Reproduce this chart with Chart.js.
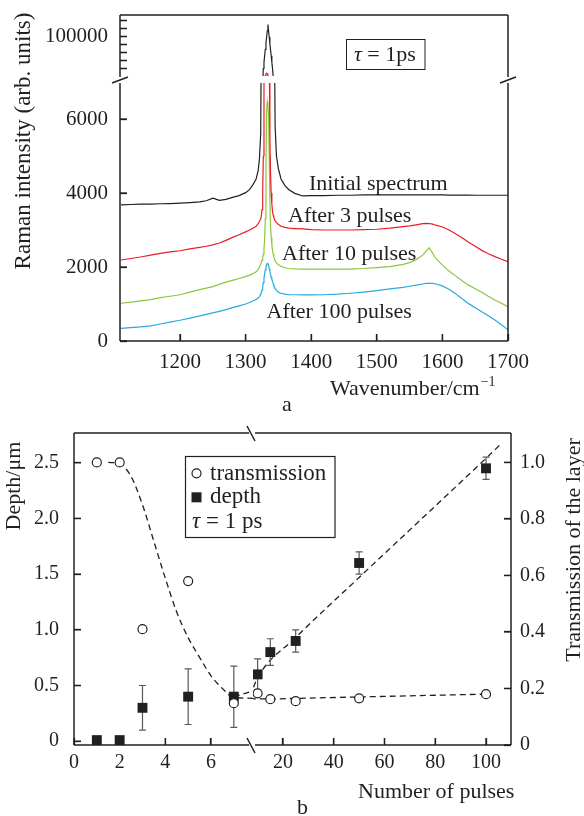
<!DOCTYPE html>
<html>
<head>
<meta charset="utf-8">
<script src="https://cdn.jsdelivr.net/npm/chart.js@4.4.1/dist/chart.umd.min.js"></script>
<style>
html,body{margin:0;padding:0;background:#fff;}
#wrap{position:relative;width:584px;height:816px;overflow:hidden;background:#fff;}
canvas{position:absolute;left:0;}
#ca{top:0;width:584px;height:420px;}
#cb{top:420px;width:584px;height:396px;}
</style>
</head>
<body>
<div id="wrap">
<canvas id="ca" width="584" height="420"></canvas>
<canvas id="cb" width="584" height="396"></canvas>
</div>
<script>
// ---------------- Panel a: Raman spectra ----------------
const wavenumbers = [
  1110,1125,1140,1155,1170,1185,1200,1215,1230,1240,
  1250,1260,1270,1280,1290,1300,1306,1311,1316,1319,
  1321,1323,1324,1325,1326,1327,1328,1329,1330,1331,
  1332,1333,1334,1335,1336,1337,1338,1339,1340,1341,
  1342,1343,1344,1345,1347,1350,1354,1360,1366,1375,
  1387,1400,1420,1440,1460,1480,1500,1520,1540,1550,
  1560,1570,1575,1580,1585,1590,1600,1610,1620,1630,
  1640,1650,1660,1670,1680,1690,1700
];
const initialSpectrum = [
  3680,3690,3700,3700,3710,3715,3725,3740,3760,3790,
  3860,3800,3830,3880,3930,4010,4090,4220,4380,4600,
  4900,5600,8500,20000,40000,60000,68000,76000,84000,92000,
  99000,107000,115000,107000,99000,91000,83000,76000,68000,60000,
  50000,20000,8000,5800,5000,4650,4380,4200,4090,3990,
  3920,3930,3930,3940,3940,3950,3950,3950,3950,3950,
  3950,3950,3950,3950,3950,3950,3950,3945,3945,3945,
  3945,3940,3940,3940,3940,3940,3940
];
const after3Pulses = [
  2190,2230,2270,2320,2370,2410,2440,2490,2530,2560,
  2600,2650,2720,2800,2870,2950,3000,3050,3100,3170,
  3230,3300,3380,3550,4000,5000,6500,30000,51000,53500,
  54000,53500,51000,30000,8000,5500,4500,4000,3700,3500,
  3400,3340,3290,3250,3200,3150,3100,3070,3050,3040,
  3030,3010,3000,3000,3000,3010,3020,3050,3090,3110,
  3140,3170,3180,3175,3160,3130,3080,3000,2900,2790,
  2670,2560,2450,2360,2280,2210,2145
];
const after10Pulses = [
  1020,1050,1085,1120,1170,1210,1250,1320,1390,1430,
  1470,1530,1590,1640,1690,1740,1780,1820,1870,1930,
  2000,2080,2130,2180,2250,2350,2500,2750,3300,4800,
  6200,6470,6350,6100,5000,3800,3100,2800,2600,2450,
  2350,2280,2220,2170,2110,2060,2020,1980,1960,1950,
  1945,1940,1940,1940,1945,1960,1985,2010,2070,2120,
  2200,2320,2420,2520,2380,2230,2050,1890,1760,1630,
  1510,1410,1320,1210,1110,1020,930
];
const after100Pulses = [
  340,360,380,410,460,510,560,620,680,720,
  760,800,850,900,950,1000,1040,1080,1120,1160,
  1200,1260,1310,1380,1470,1580,1700,1820,1920,2000,
  2060,2100,2090,2040,1960,1880,1800,1730,1670,1610,
  1550,1500,1460,1420,1370,1320,1290,1265,1255,1250,
  1245,1245,1250,1265,1290,1320,1360,1410,1450,1480,
  1510,1540,1555,1560,1555,1540,1490,1400,1280,1140,
  1010,900,790,680,570,440,300
];
const spectrumLabels = ['Initial spectrum', 'After 3 pulses', 'After 10 pulses', 'After 100 pulses'];
const xTicksA = [1200, 1300, 1400, 1500, 1600, 1700];
const yTicksLow = [0, 2000, 4000, 6000];
const yTicksHigh = [60000, 70000, 80000, 90000, 100000, 110000, 120000];
const yHighLabelled = [100000];

// ---------------- Panel b: depth & transmission ----------------
const pulses = [1, 2, 3, 5, 7, 10, 15, 25, 50, 100];
const transmission = [1.0, 1.0, 0.41, 0.58, 0.148, 0.183, 0.162, 0.155, 0.165, 0.18];
const depth = [0.01, 0.01, 0.3, 0.4, 0.4, 0.6, 0.8, 0.9, 1.6, 2.45];
const depthError = [0, 0, 0.2, 0.25, 0.275, 0.14, 0.12, 0.1, 0.1, 0.1];
const transFitPulses = [1.5, 2, 2.5, 3, 3.5, 4, 4.5, 5, 5.5, 6, 6.5, 7, 10, 15, 25, 50, 100];
const transFit = [1.0, 0.995, 0.95, 0.85, 0.72, 0.59, 0.47, 0.38, 0.31, 0.245, 0.2, 0.168, 0.163, 0.163, 0.165, 0.17, 0.18];
const depthFitPulses = [7, 10, 25, 50, 100, 105.5];
const depthFit = [0.4, 0.57, 0.93, 1.47, 2.54, 2.66];
const legendLabels = ['transmission', 'depth'];
const xTicksLeft = [0, 2, 4, 6];
const xTicksRight = [20, 40, 60, 80, 100];
const yTicksDepth = [0, 0.5, 1.0, 1.5, 2.0, 2.5];
const yTicksTrans = [0, 0.2, 0.4, 0.6, 0.8, 1.0];

// ---------------- styling ----------------
const INK = '#231f20';
const SERIF = "'Liberation Serif', 'Times New Roman', serif";
const SPECTRUM_COLORS = ['#231f20', '#ed1c24', '#8cc63f', '#27aae1'];
const UPPER_SEGMENT_PX = 64.5;   // height of the upper (broken) y segment in panel a
const TICK_LEN = 7;
Chart.defaults.font.family = SERIF;
Chart.defaults.color = INK;

const toXY = (xs, ys) => xs.map((x, i) => ({x: x, y: ys[i]}));
const setTicks = arr => (s => { s.ticks = arr.map(v => ({value: v})); });
// fix the axis box size and drop the automatic label overhang padding
const fixWidth = w => (s => { s.width = w; s.paddingTop = 0; s.paddingBottom = 0; s.paddingLeft = 0; s.paddingRight = 0; });
const fixHeight = h => (s => { s.height = h; s.paddingTop = 0; s.paddingBottom = 0; s.paddingLeft = 0; s.paddingRight = 0; });

function axis(extra, fontSize, pad) {
  const base = {
    type: 'linear',
    border: {display: false},
    grid: {display: true, drawOnChartArea: false, drawTicks: true, tickLength: -TICK_LEN, tickWidth: 1.3, tickColor: INK, color: INK},
    ticks: {color: INK, autoSkip: false, maxRotation: 0, minRotation: 0, padding: pad, font: {family: SERIF, size: fontSize}}
  };
  const o = Object.assign(base, extra);
  if (extra.tickCallback) { o.ticks.callback = extra.tickCallback; delete o.tickCallback; }
  return o;
}

// clip each dataset to its own segment of a broken axis
function segRect(chart, seg) {
  const a = chart.chartArea, s = chart.scales;
  if (seg === 'low') return {l: a.left, r: a.right, t: s.yLow.top + 3.5, b: a.bottom};
  if (seg === 'high') return {l: a.left, r: a.right, t: a.top, b: s.yHigh.bottom - 3.5};
  if (seg === 'L') return {l: a.left - 12, r: s.xL.right, t: a.top - 12, b: a.bottom + 12};
  if (seg === 'R') return {l: s.xR.left, r: a.right + 12, t: a.top - 12, b: a.bottom + 12};
  return {l: a.left, r: a.right, t: a.top, b: a.bottom};
}
const segClip = {
  id: 'segClip',
  beforeDatasetDraw(chart, args) {
    const ds = chart.data.datasets[args.index];
    const r = segRect(chart, ds.seg);
    const ctx = chart.ctx;
    ctx.save();
    ctx.beginPath();
    ctx.rect(r.l, r.t, r.r - r.l, r.b - r.t);
    ctx.clip();
    if (ds.withErrors) {
      const xs = chart.scales[ds.xAxisID], ys = chart.scales[ds.yAxisID];
      ctx.save();
      ctx.strokeStyle = '#58595b';
      ctx.lineWidth = 1.2;
      ds.data.forEach(p => {
        if (!p.err) return;
        const x = xs.getPixelForValue(p.x);
        const y1 = ys.getPixelForValue(p.y + p.err);
        const y2 = ys.getPixelForValue(p.y - p.err);
        ctx.beginPath();
        ctx.moveTo(x, y1); ctx.lineTo(x, y2);
        ctx.moveTo(x - 3.5, y1); ctx.lineTo(x + 3.5, y1);
        ctx.moveTo(x - 3.5, y2); ctx.lineTo(x + 3.5, y2);
        ctx.stroke();
      });
      ctx.restore();
    }
  },
  afterDatasetDraw(chart) { chart.ctx.restore(); }
};

function line(ctx, x1, y1, x2, y2) { ctx.beginPath(); ctx.moveTo(x1, y1); ctx.lineTo(x2, y2); ctx.stroke(); }
// inward tick marks at each scale's own tick values
function inwardTicks(ctx, scale, side) {
  scale.ticks.forEach(t => {
    const p = scale.getPixelForValue(t.value);
    if (side === 'left') line(ctx, scale.right, p, scale.right + TICK_LEN, p);
    else if (side === 'right') line(ctx, scale.left, p, scale.left - TICK_LEN, p);
    else line(ctx, p, scale.top, p, scale.top - TICK_LEN);
  });
}
function drawTau(ctx, x, y, rest, size) {
  ctx.font = 'italic ' + size + 'px ' + SERIF;
  ctx.fillText('\u03c4', x, y);
  const w = ctx.measureText('\u03c4').width;
  ctx.font = size + 'px ' + SERIF;
  ctx.fillText(rest, x + w, y);
}
function vText(ctx, text, x, y, size) {
  ctx.save();
  ctx.translate(x, y);
  ctx.rotate(-Math.PI / 2);
  ctx.font = size + 'px ' + SERIF;
  ctx.textAlign = 'center';
  ctx.textBaseline = 'alphabetic';
  ctx.fillText(text, 0, 0);
  ctx.restore();
}

// ---------------- Chart a ----------------
const datasetsA = [];
[initialSpectrum, after3Pulses, after10Pulses, after100Pulses].forEach((vals, i) => {
  const common = {label: spectrumLabels[i], data: toXY(wavenumbers, vals), borderColor: SPECTRUM_COLORS[i],
    borderWidth: 1.2, pointRadius: 0, tension: 0, clip: false, xAxisID: 'x'};
  datasetsA.push(Object.assign({}, common, {yAxisID: 'yLow', seg: 'low'}));
  datasetsA.push(Object.assign({}, common, {yAxisID: 'yHigh', seg: 'high'}));
});

// make sure the two stacked y segments split exactly where the axis break is
const splitA = {
  id: 'splitA',
  afterLayout(chart) {
    const a = chart.chartArea, hi = chart.scales.yHigh, lo = chart.scales.yLow;
    const split = a.top + UPPER_SEGMENT_PX;
    hi.top = a.top; hi.bottom = split; hi.height = split - a.top;
    lo.top = split; lo.bottom = a.bottom; lo.height = a.bottom - split;
    hi.configure(); lo.configure();
  }
};

const frameA = {
  id: 'frameA',
  afterDraw(chart) {
    const ctx = chart.ctx, a = chart.chartArea;
    const yb = chart.scales.yLow.top;
    ctx.save();
    ctx.strokeStyle = INK; ctx.fillStyle = INK; ctx.lineWidth = 1.5;
    line(ctx, a.left, a.top, a.right, a.top);
    line(ctx, a.left, a.bottom, a.right, a.bottom);
    [a.left, a.right].forEach(x => {
      line(ctx, x, a.top, x, yb - 2.5);
      line(ctx, x, yb + 3.5, x, a.bottom);
      line(ctx, x - 8, yb + 3.5, x + 8, yb - 2.5);
    });
    ctx.lineWidth = 1.3;
    inwardTicks(ctx, chart.scales.x, 'bottom');
    inwardTicks(ctx, chart.scales.yLow, 'left');
    inwardTicks(ctx, chart.scales.yHigh, 'left');
    // tau box
    ctx.lineWidth = 1;
    ctx.strokeRect(346.5, 39.5, 78.5, 30);
    ctx.textAlign = 'left'; ctx.textBaseline = 'alphabetic';
    drawTau(ctx, 354, 61, ' = 1ps', 22);
    // curve labels
    ctx.font = '22px ' + SERIF;
    ctx.fillText(spectrumLabels[0], 309, 190);
    ctx.fillText(spectrumLabels[1], 288, 221.5);
    ctx.fillText(spectrumLabels[2], 282, 259.5);
    ctx.fillText(spectrumLabels[3], 266.5, 317.5);
    // x title with superscript
    ctx.fillText('Wavenumber/cm', 330, 395);
    const w = ctx.measureText('Wavenumber/cm').width;
    ctx.font = '14px ' + SERIF;
    ctx.fillText('\u22121', 330 + w + 1, 386);
    // panel letter
    ctx.font = '22px ' + SERIF;
    ctx.fillText('a', 282, 410.5);
    // y title
    vText(ctx, 'Raman intensity (arb. units)', 30, 141, 23);
    ctx.restore();
  }
};

new Chart(document.getElementById('ca'), {
  type: 'line',
  data: {datasets: datasetsA},
  options: {
    responsive: false, animation: false, devicePixelRatio: 1, events: [],
    layout: {autoPadding: false, padding: {top: 15, right: 76, left: 0, bottom: 0}},
    plugins: {legend: {display: false}, tooltip: {enabled: false}},
    scales: {
      x: axis({axis: 'x', position: 'bottom', min: 1108.5, max: 1700,
        afterFit: fixHeight(79), afterBuildTicks: setTicks(xTicksA),
        tickCallback: v => String(v)}, 21, 16),
      yLow: axis({axis: 'y', position: 'left', stack: 'ya', stackWeight: 261.5, weight: 0, min: 0, max: 7068,
        afterFit: fixWidth(120), afterBuildTicks: setTicks(yTicksLow),
        tickCallback: v => String(v)}, 21, 19),
      yHigh: axis({axis: 'y', position: 'left', stack: 'ya', stackWeight: 64.5, weight: 1, min: 46250, max: 126875,
        afterFit: fixWidth(120), afterBuildTicks: setTicks(yTicksHigh),
        tickCallback: v => (yHighLabelled.includes(v) ? String(v) : '')}, 21, 19)
    }
  },
  plugins: [splitA, segClip, frameA]
});

// ---------------- Chart b ----------------
const transPts = toXY(pulses, transmission);
const depthPts = pulses.map((p, i) => ({x: p, y: depth[i], err: depthError[i]}));
const X_LEFT_MAX = 7.84, X_RIGHT_MIN = 8.18;

const circleStyle = {pointStyle: 'circle', pointRadius: 4.5, pointBackgroundColor: '#ffffff', pointBorderColor: INK, pointBorderWidth: 1.2, showLine: false, clip: false};
const squareStyle = {pointStyle: 'rect', pointRadius: 7, pointBackgroundColor: INK, pointBorderColor: INK, pointBorderWidth: 0, showLine: false, clip: false, withErrors: true};
const fitStyle = {showLine: true, pointRadius: 0, borderColor: INK, borderWidth: 1.3, borderDash: [6, 4], cubicInterpolationMode: 'monotone', clip: false};

const datasetsB = [
  Object.assign({label: legendLabels[0], data: transPts.filter(p => p.x <= X_LEFT_MAX), xAxisID: 'xL', yAxisID: 'yT', seg: 'L'}, circleStyle),
  Object.assign({label: legendLabels[0], data: transPts.filter(p => p.x >= X_RIGHT_MIN), xAxisID: 'xR', yAxisID: 'yT', seg: 'R'}, circleStyle),
  Object.assign({label: legendLabels[1], data: depthPts.filter(p => p.x <= X_LEFT_MAX), xAxisID: 'xL', yAxisID: 'yD', seg: 'L'}, squareStyle),
  Object.assign({label: legendLabels[1], data: depthPts.filter(p => p.x >= X_RIGHT_MIN), xAxisID: 'xR', yAxisID: 'yD', seg: 'R'}, squareStyle),
  Object.assign({label: 'fit T', data: toXY(transFitPulses, transFit), xAxisID: 'xL', yAxisID: 'yT', seg: 'L'}, fitStyle),
  Object.assign({label: 'fit T', data: toXY(transFitPulses, transFit), xAxisID: 'xR', yAxisID: 'yT', seg: 'R'}, fitStyle),
  Object.assign({label: 'fit d', data: toXY(depthFitPulses, depthFit), xAxisID: 'xL', yAxisID: 'yD', seg: 'L'}, fitStyle),
  Object.assign({label: 'fit d', data: toXY(depthFitPulses, depthFit), xAxisID: 'xR', yAxisID: 'yD', seg: 'R'}, fitStyle)
];

const frameB = {
  id: 'frameB',
  afterDraw(chart) {
    const ctx = chart.ctx, a = chart.chartArea;
    const xb = chart.scales.xL.right;
    ctx.save();
    ctx.strokeStyle = INK; ctx.fillStyle = INK; ctx.lineWidth = 1.5;
    line(ctx, a.left, a.top, a.left, a.bottom);
    line(ctx, a.right, a.top, a.right, a.bottom);
    [a.top, a.bottom].forEach(y => {
      line(ctx, a.left, y, xb - 4, y);
      line(ctx, xb + 2, y, a.right, y);
      line(ctx, xb - 6, y - 7, xb + 2, y + 8);
    });
    ctx.lineWidth = 1.3;
    inwardTicks(ctx, chart.scales.xL, 'bottom');
    inwardTicks(ctx, chart.scales.xR, 'bottom');
    inwardTicks(ctx, chart.scales.yD, 'left');
    inwardTicks(ctx, chart.scales.yT, 'right');
    // legend box
    ctx.lineWidth = 1.2;
    ctx.strokeRect(185.5, 36.5, 149.5, 81);
    ctx.beginPath(); ctx.arc(196.5, 53.3, 4.5, 0, 2 * Math.PI);
    ctx.fillStyle = '#ffffff'; ctx.fill(); ctx.stroke();
    ctx.fillStyle = INK;
    ctx.fillRect(191.5, 72.3, 10, 10);
    ctx.textAlign = 'left'; ctx.textBaseline = 'alphabetic';
    ctx.font = '23px ' + SERIF;
    ctx.fillText(legendLabels[0], 210, 60);
    ctx.fillText(legendLabels[1], 210, 83.3);
    drawTau(ctx, 192, 108.3, ' = 1 ps', 23);
    // axis titles
    ctx.font = '22px ' + SERIF;
    ctx.fillText('Number of pulses', 358, 378);
    ctx.fillText('b', 297, 394);
    vText(ctx, 'Depth/\u03bcm', 20, 66, 22);
    vText(ctx, 'Transmission of the layer', 580, 130, 22);
    ctx.restore();
  }
};

const fmt1 = v => (v === 0 ? '0' : v.toFixed(1));
new Chart(document.getElementById('cb'), {
  type: 'scatter',
  data: {datasets: datasetsB},
  options: {
    responsive: false, animation: false, devicePixelRatio: 1, events: [],
    layout: {autoPadding: false, padding: {top: 13, right: 0, left: 0, bottom: 0}},
    plugins: {legend: {display: false}, tooltip: {enabled: false}},
    scales: {
      xL: axis({axis: 'x', position: 'bottom', stack: 'xb', stackWeight: 179, weight: 0, min: 0, max: X_LEFT_MAX,
        afterFit: fixHeight(71), afterBuildTicks: setTicks(xTicksLeft),
        tickCallback: v => String(v)}, 20, 13),
      xR: axis({axis: 'x', position: 'bottom', stack: 'xb', stackWeight: 258, weight: 1, min: X_RIGHT_MIN, max: 109.85,
        afterFit: fixHeight(71), afterBuildTicks: setTicks(xTicksRight),
        tickCallback: v => String(v)}, 20, 13),
      yD: axis({axis: 'y', position: 'left', min: -0.034, max: 2.767,
        afterFit: fixWidth(74), afterBuildTicks: setTicks(yTicksDepth),
        tickCallback: fmt1}, 20, 22),
      yT: axis({axis: 'y', position: 'right', min: 0, max: 1.104,
        afterFit: fixWidth(73), afterBuildTicks: setTicks(yTicksTrans),
        tickCallback: fmt1}, 20, 16)
    }
  },
  plugins: [segClip, frameB]
});
</script>
</body>
</html>
